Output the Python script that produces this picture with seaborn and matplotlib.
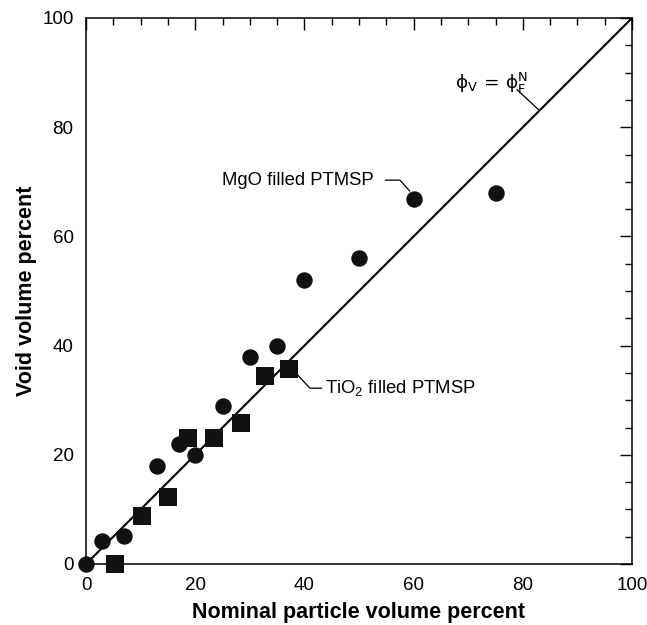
import matplotlib
matplotlib.use("Agg")
import matplotlib.pyplot as plt
import seaborn as sns
import pandas as pd
from matplotlib.ticker import MultipleLocator

# ---- data ----
mgo_x = [0, 3, 7, 13, 17, 20, 25, 30, 35, 40, 50, 60, 75]
mgo_y = [0, 4.2, 5.1, 18, 22, 20, 29, 38, 40, 52, 56, 66.8, 67.9]
tio2_x = [5.4, 10.3, 15.1, 18.7, 23.4, 28.4, 32.8, 37.2]
tio2_y = [0, 8.7, 12.3, 23.1, 23.1, 25.8, 34.4, 35.8]
line_x = [0, 100]
line_y = [0, 100]
xticks = [0, 20, 40, 60, 80, 100]
yticks = [0, 20, 40, 60, 80, 100]

sns.set_style("white")
plt.rcParams['font.family'] = ['Liberation Sans', 'DejaVu Sans']
plt.rcParams['text.color'] = 'black'
plt.rcParams['axes.labelcolor'] = 'black'
plt.rcParams['xtick.color'] = 'black'
plt.rcParams['ytick.color'] = 'black'

fig = plt.figure(figsize=(6.47, 6.25), dpi=100)
ax = fig.add_axes([86/647, 1-564/625, (632-86)/647, (564-18)/625])

df_m = pd.DataFrame({"x": mgo_x, "y": mgo_y})
df_t = pd.DataFrame({"x": tio2_x, "y": tio2_y})
df_l = pd.DataFrame({"x": line_x, "y": line_y})

sns.lineplot(data=df_l, x="x", y="y", ax=ax, color="black", linewidth=1.5, zorder=2)
sns.scatterplot(data=df_m, x="x", y="y", ax=ax, marker="o", s=140, color="#111111",
                linewidth=0, zorder=4, clip_on=False)
sns.scatterplot(data=df_t, x="x", y="y", ax=ax, marker="s", s=150, color="#111111",
                linewidth=0, zorder=4, clip_on=False)

ax.set_xlim(0, 100)
ax.set_ylim(0, 100)
ax.set_xticks(xticks)
ax.set_yticks(yticks)
ax.xaxis.set_minor_locator(MultipleLocator(5))
ax.yaxis.set_minor_locator(MultipleLocator(5))
ax.tick_params(which='both', direction='in', top=True, right=True, colors='black',
               labelsize=13.5, pad=9)
ax.tick_params(which='major', length=8.5, width=1.0)
ax.tick_params(which='minor', length=5, width=1.0)
for sp in ax.spines.values():
    sp.set_color('black')
    sp.set_linewidth(1.1)

ax.set_xlabel("Nominal particle volume percent", fontsize=15.5, fontweight='bold',
              labelpad=6, color='black')
ax.set_ylabel("Void volume percent", fontsize=15.5, fontweight='bold', labelpad=4,
              color='black')

# annotations
ax.text(52.6, 70.3, "MgO filled PTMSP", ha='right', va='center', fontsize=13.3, color='black')
ax.plot([54.8, 57.5, 59.3], [70.3, 70.3, 68.3], color='black', linewidth=0.9)

ax.text(67.6, 87.0, r"$\mathregular{ϕ_V\,=\,ϕ_F^N}$", ha='left', va='baseline',
        fontsize=13.3, color='black', family='DejaVu Sans')
ax.plot([78.9, 82.9], [86.9, 83.2], color='black', linewidth=0.9)

ax.text(43.8, 31.3, r"$\mathregular{TiO_2}$ filled PTMSP", ha='left', va='baseline',
        fontsize=13.3, color='black')
ax.plot([38.6, 41.0, 43.2], [34.8, 32.2, 32.2], color='black', linewidth=0.9)

fig.savefig("out.png", dpi=100)
